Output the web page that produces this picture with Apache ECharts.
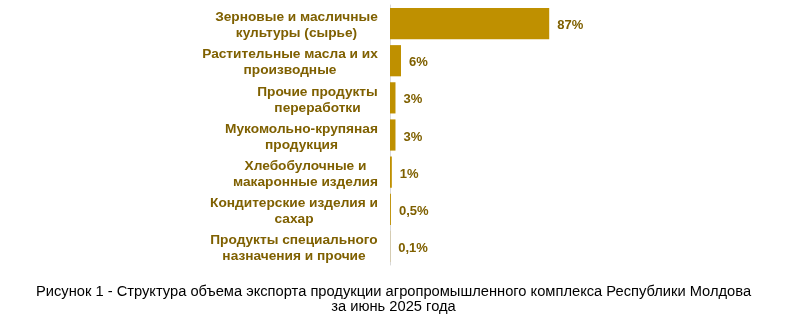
<!DOCTYPE html>
<html><head><meta charset="utf-8">
<script src="https://cdn.jsdelivr.net/npm/echarts@6/dist/echarts.min.js"></script>
<style>html,body{margin:0;padding:0;background:#fff}#c{width:787px;height:316px}</style>
</head><body><div id="c"></div>
<script>
var categories = [
  'Зерновые и масличные\nкультуры (сырье)',
  'Растительные масла и их\nпроизводные',
  'Прочие продукты\nпереработки',
  'Мукомольно-крупяная\nпродукция',
  'Хлебобулочные и\nмакаронные изделия',
  'Кондитерские изделия и\nсахар',
  'Продукты специального\nназначения и прочие'
];
var values = [87, 6, 3, 3, 1, 0.5, 0.1];
var valueLabels = ['87%', '6%', '3%', '3%', '1%', '0,5%', '0,1%'];
var captionLines = [
  'Рисунок 1 - Структура объема экспорта продукции агропромышленного комплекса Республики Молдова',
  'за июнь 2025 года'
];

var labelSize = 13.7;
var cv = document.createElement('canvas').getContext('2d');
cv.font = 'bold ' + labelSize + 'px Arial';
var rich = {};
categories.forEach(function(c, i){
  var w = 0;
  c.split('\n').forEach(function(l){ w = Math.max(w, cv.measureText(l).width); });
  rich['r' + i] = {width: Math.ceil(w), align: 'center', fontFamily: 'Arial', fontWeight: 'bold', fontSize: labelSize, color: '#7F6000', lineHeight: 16, padding: [4, 0, 0, 0]};
});

var chart = echarts.init(document.getElementById('c'));
chart.setOption({
  animation: false,
  title: {
    text: captionLines.join('\n'),
    left: 'center', top: 279,
    textStyle: {fontFamily: 'Arial', fontWeight: 'normal', fontSize: 14.7, color: '#000', lineHeight: 15}
  },
  grid: {left: 390, width: 183, top: 5, bottom: 51, containLabel: false},
  xAxis: {type: 'value', min: 0, max: 100, show: false},
  yAxis: {
    type: 'category', data: categories, inverse: true,
    axisLine: {show: true, lineStyle: {color: '#D9D9D9', width: 1}},
    axisTick: {show: false},
    axisLabel: {
      margin: 12,
      formatter: function(v, i){
        return v.split('\n').map(function(l){ return '{r' + i + '|' + l + '}'; }).join('\n');
      },
      rich: rich
    }
  },
  series: [{
    type: 'bar', data: values, barCategoryGap: '16%',
    itemStyle: {color: '#BF9000'},
    label: {
      show: true, position: 'right', distance: 8,
      offset: [0, 2],
      formatter: function(p){ return valueLabels[p.dataIndex]; },
      fontFamily: 'Arial', fontWeight: 'bold', fontSize: 13, color: '#7F6000'
    }
  }]
});
</script></body></html>
